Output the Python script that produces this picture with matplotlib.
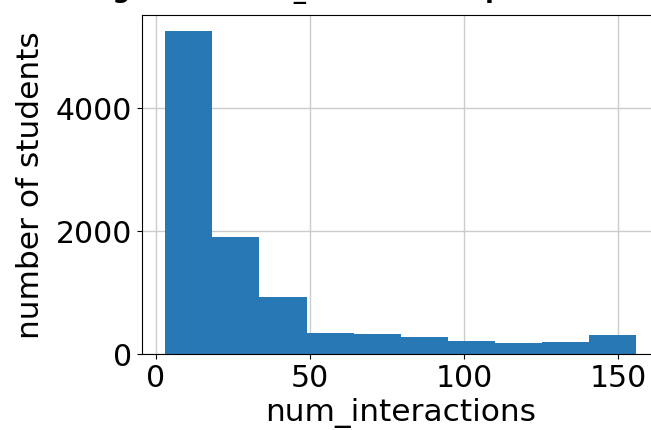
import numpy as np
import matplotlib
matplotlib.use("Agg")
import matplotlib.pyplot as plt

# histogram bin edges (num_interactions) and counts per bin
bin_edges = np.linspace(3, 156, 11)
counts = [5250, 1900, 930, 345, 315, 265, 205, 170, 195, 300]
x_ticks = [0, 50, 100, 150]
y_ticks = [0, 2000, 4000]

plt.rcParams['font.size'] = 21.5

fig = plt.figure(figsize=(6.51, 4.31), dpi=100)
ax = fig.add_axes([0.2177, 0.177, 0.796, 0.786])

ax.hist(bin_edges[:-1], bins=bin_edges, weights=counts, color='#2878b5', zorder=2)
ax.grid(True, color='#cccccc', linewidth=1.0, zorder=0)
ax.set_axisbelow(True)
ax.set_xticks(x_ticks)
ax.set_yticks(y_ticks)
ax.set_xlabel('num_interactions', fontsize=22.5, labelpad=3)
ax.set_ylabel('number of students', fontsize=22.5, labelpad=8)

# title sits above the canvas edge, only its descenders show
fig.text(0.06, 1.0 + 2.5 / 431, 'Histogram of num_interactions per student',
         fontsize=18, fontweight='bold', va='baseline', ha='left')

fig.savefig('out.png', dpi=100)
